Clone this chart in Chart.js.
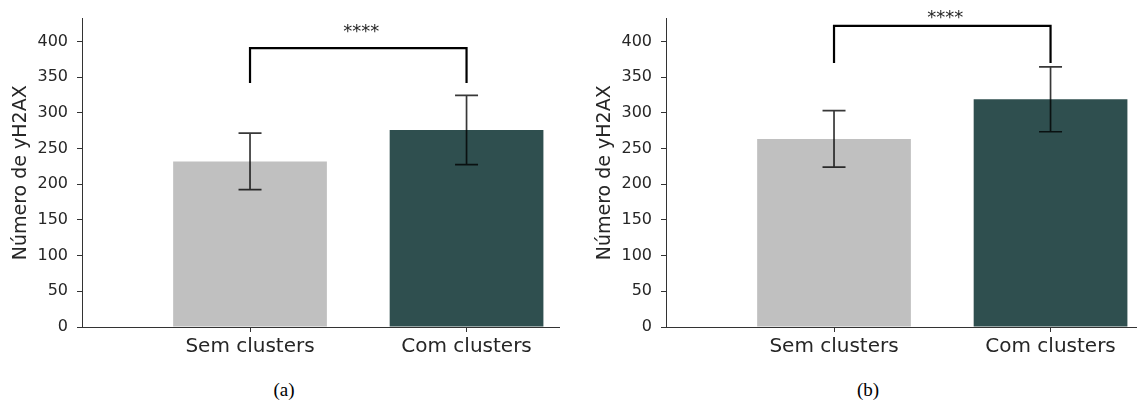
<!DOCTYPE html>
<html>
<head>
<meta charset="utf-8">
<script src="https://cdn.jsdelivr.net/npm/chart.js@4"></script>
<style>
  body { margin: 0; width: 1137px; height: 403px; overflow: hidden; background: #fff; position: relative; }
  canvas { position: absolute; top: 0; }
  .cap { position: absolute; top: 380px; font-family: "Liberation Serif", serif; font-size: 19px; line-height: 20px; color: #000; transform: translateX(-50%); }
</style>
</head>
<body>
<canvas id="chartA" width="570" height="370" style="left:0px"></canvas>
<canvas id="chartB" width="570" height="370" style="left:584px"></canvas>
<div class="cap" style="left:284px">(a)</div>
<div class="cap" style="left:868px">(b)</div>
<script>
// dados
const categories = ["Sem clusters", "Com clusters"];
const meansA = [232, 276];
const errorsA = [39.5, 48.5];
const meansB = [263.5, 319];
const errorsB = [39.5, 45.5];
const yTicks = [0, 50, 100, 150, 200, 250, 300, 350, 400];
// colchete de significância: [fim das pernas, topo], e altura do texto
const bracketA = [341.7, 390.7];
const bracketB = [369.9, 421.8];
const starsA = 412.5;
const starsB = 432;
const starText = "****";
const barColors = ["#c0c0c0", "#2f4f4f"];

const FONT = "DejaVu Sans";
const TEXT = "#262626";
const LINE = "#333333";

function overlay(means, errors, bracket, starY) {
    return {
        id: "overlay",
        afterDatasetsDraw(chart) {
            const ctx = chart.ctx;
            const x = chart.scales.x, y = chart.scales.y;
            ctx.save();
            // barras de erro
            ctx.strokeStyle = "rgba(0,0,0,0.78)";
            ctx.lineWidth = 1.7;
            means.forEach((m, i) => {
                const px = x.getPixelForValue(i);
                const top = y.getPixelForValue(m + errors[i]);
                const bot = y.getPixelForValue(m - errors[i]);
                ctx.beginPath();
                ctx.moveTo(px, top); ctx.lineTo(px, bot);
                ctx.moveTo(px - 11.5, top); ctx.lineTo(px + 11.5, top);
                ctx.moveTo(px - 11.5, bot); ctx.lineTo(px + 11.5, bot);
                ctx.stroke();
            });
            // colchete
            const x0 = x.getPixelForValue(0), x1 = x.getPixelForValue(1);
            const yl = y.getPixelForValue(bracket[0]), yt = y.getPixelForValue(bracket[1]);
            ctx.strokeStyle = "#000";
            ctx.lineWidth = 2.2;
            ctx.lineJoin = "miter";
            ctx.beginPath();
            ctx.moveTo(x0, yl); ctx.lineTo(x0, yt); ctx.lineTo(x1, yt); ctx.lineTo(x1, yl);
            ctx.stroke();
            ctx.fillStyle = TEXT;
            ctx.font = "18px '" + FONT + "'";
            ctx.textAlign = "center";
            ctx.textBaseline = "middle";
            ctx.fillText(starText, (x0 + x1) / 2 + 3, y.getPixelForValue(starY));
            ctx.restore();
        }
    };
}

function buildChart(id, means, errors, bracket, starY) {
    return new Chart(document.getElementById(id), {
        type: "bar",
        data: {
            datasets: [{
                data: means.map((v, i) => ({ x: i, y: v })),
                backgroundColor: barColors,
                barPercentage: 0.71,
                categoryPercentage: 1
            }]
        },
        options: {
            responsive: false,
            animation: false,
            layout: { padding: { top: 16, right: 11, left: 0, bottom: 0 } },
            plugins: { legend: { display: false }, tooltip: { enabled: false } },
            scales: {
                x: {
                    type: "linear",
                    offset: false,
                    min: -0.776,
                    max: 1.427,
                    afterBuildTicks: s => { s.ticks = categories.map((c, i) => ({ value: i })); },
                    afterFit: s => { s.height = 43; },
                    ticks: {
                        callback: v => categories[v],
                        font: { family: FONT, size: 20 },
                        color: TEXT,
                        padding: 3,
                        autoSkip: false,
                        maxRotation: 0
                    },
                    grid: { offset: false, drawOnChartArea: false, tickLength: 5, color: LINE },
                    border: { color: LINE, width: 1 }
                },
                y: {
                    min: 0,
                    max: 432,
                    afterBuildTicks: s => { s.ticks = yTicks.map(v => ({ value: v })); },
                    afterFit: s => { s.width = 82; },
                    ticks: { font: { family: FONT, size: 16 }, color: TEXT, padding: 9 },
                    grid: { drawOnChartArea: false, tickLength: 5, color: LINE },
                    border: { color: LINE, width: 1 },
                    title: {
                        display: true,
                        text: "Número de yH2AX",
                        font: { family: FONT, size: 19 },
                        color: TEXT,
                        padding: { top: 9.6, bottom: 0 }
                    }
                }
            }
        },
        plugins: [overlay(means, errors, bracket, starY)]
    });
}

buildChart("chartA", meansA, errorsA, bracketA, starsA);
buildChart("chartB", meansB, errorsB, bracketB, starsB);
</script>
</body>
</html>
